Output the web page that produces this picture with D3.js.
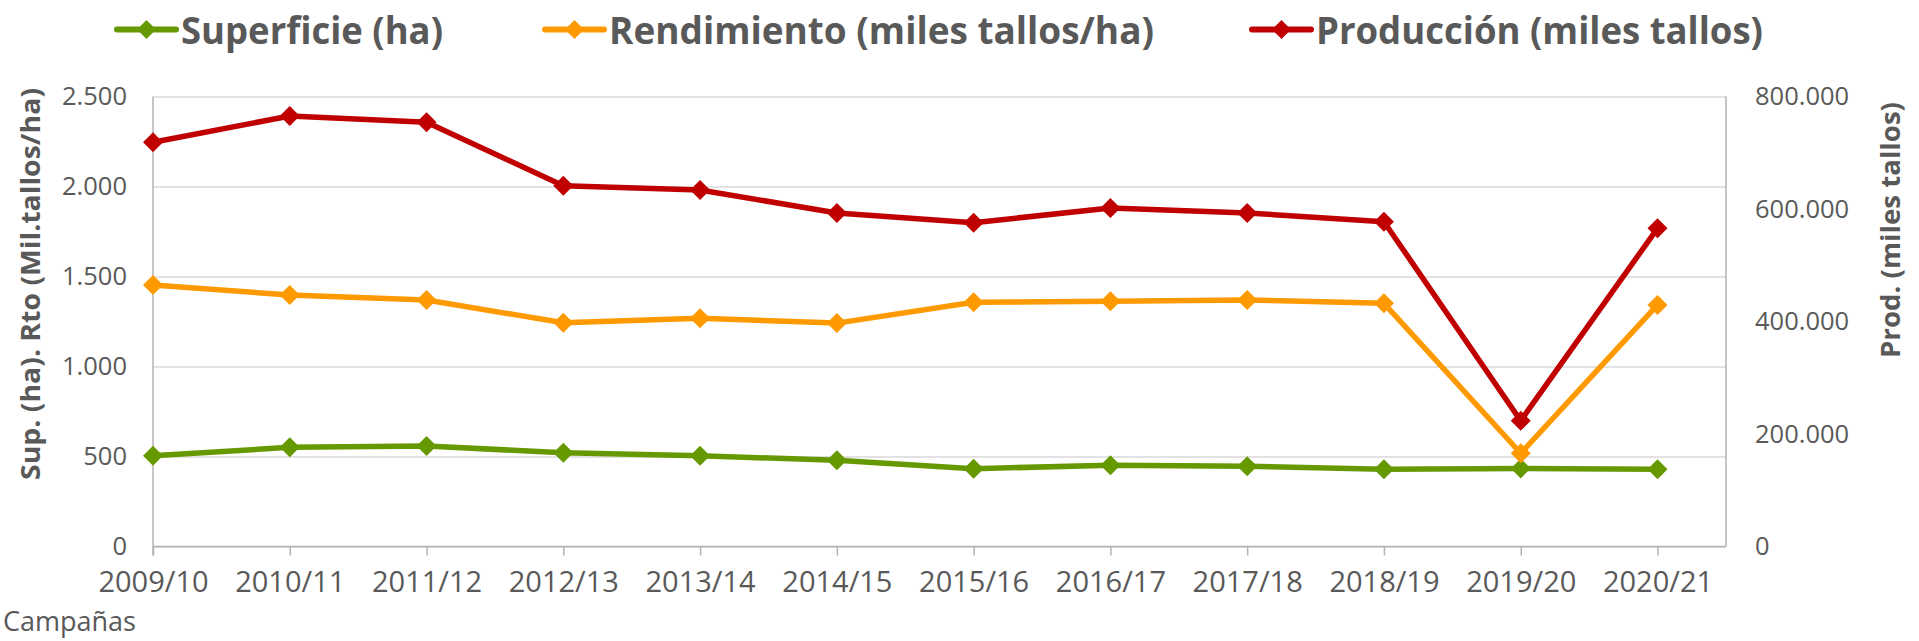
<!DOCTYPE html>
<html>
<head>
<meta charset="utf-8">
<script src="https://cdn.jsdelivr.net/npm/d3@7"></script>
<style>
  html, body { margin: 0; padding: 0; background: #ffffff; }
  svg { display: block; }
</style>
</head>
<body>
<script>
// ---------- data ----------
const categories = ["2009/10","2010/11","2011/12","2012/13","2013/14","2014/15","2015/16","2016/17","2017/18","2018/19","2019/20","2020/21"];
const superficie = [504, 551, 558, 521, 504, 479, 432, 452, 446, 429, 434, 429];
const rendimiento = [1453, 1397, 1369, 1243, 1268, 1241, 1357, 1363, 1370, 1351, 518, 1342];
const produccion = [718600, 765300, 754100, 641400, 633800, 592900, 575700, 601800, 592900, 577400, 223600, 565700];
const leftTicks = [0, 500, 1000, 1500, 2000, 2500];
const rightTicks = [0, 200000, 400000, 600000, 800000];
const seriesNames = ["Superficie (ha)", "Rendimiento (miles tallos/ha)", "Producción (miles tallos)"];
const leftTitle = "Sup. (ha). Rto (Mil.tallos/ha)";
const rightTitle = "Prod. (miles tallos)";
const xTitle = "Campañas";

// ---------- setup ----------
const W = 1919, H = 641;
const plot = { left: 153, right: 1726, top: 96.5, bottom: 546.5 };
const lastPointX = 1657.5;
const textColor = "#595959";
const colors = ["#669900", "#FF9900", "#C00000"];
const fmt = d3.formatLocale({ decimal: ",", thousands: ".", grouping: [3], currency: ["", "€"] }).format(",.0f");

const svg = d3.select("body").append("svg").attr("width", W).attr("height", H);

const x = d3.scalePoint().domain(categories).range([plot.left, lastPointX]);
const yL = d3.scaleLinear().domain([0, 2500]).range([plot.bottom, plot.top]);
const yR = d3.scaleLinear().domain([0, 800000]).range([plot.bottom, plot.top]);

// gridlines
const grid = svg.append("g").attr("transform", `translate(${plot.left},0)`)
  .call(d3.axisLeft(yL).tickValues(leftTicks).tickSize(-(plot.right - plot.left)).tickFormat(""));
grid.select(".domain").remove();
grid.selectAll("line").attr("stroke", "#d9d9d9").attr("stroke-width", 1.5);

// left axis labels
const gL = svg.append("g").attr("transform", `translate(${plot.left},0)`)
  .call(d3.axisLeft(yL).tickValues(leftTicks).tickSize(0).tickPadding(26).tickFormat(fmt));
gL.select(".domain").remove();
gL.selectAll("text").attr("fill", textColor).style("font-family", "'Open Sans'").style("font-size", "25.5px");

// right axis labels
const gR = svg.append("g").attr("transform", `translate(${plot.right},0)`)
  .call(d3.axisRight(yR).tickValues(rightTicks).tickSize(0).tickPadding(29).tickFormat(fmt));
gR.select(".domain").remove();
gR.selectAll("text").attr("fill", textColor).style("font-family", "'Open Sans'").style("font-size", "25.5px");

// bottom axis
const gX = svg.append("g").attr("transform", `translate(0,${plot.bottom})`)
  .call(d3.axisBottom(x).tickSize(9).tickPadding(16));
gX.select(".domain").remove();
gX.selectAll("line").attr("stroke", "#b3b3b3").attr("stroke-width", 1.5);
gX.selectAll("text").attr("fill", textColor).style("font-family", "'Open Sans'").style("font-size", "29px");

// frame lines
const frame = svg.append("g").attr("stroke", "#b3b3b3").attr("stroke-width", 1.5).attr("fill", "none");
frame.append("line").attr("x1", plot.left).attr("x2", plot.left).attr("y1", plot.top).attr("y2", plot.bottom + 9);
frame.append("line").attr("x1", plot.left).attr("x2", plot.right).attr("y1", plot.bottom).attr("y2", plot.bottom);
frame.append("line").attr("x1", plot.right).attr("x2", plot.right).attr("y1", plot.top).attr("y2", plot.bottom);

// series
const series = [
  { values: superficie, y: yL, color: colors[0] },
  { values: rendimiento, y: yL, color: colors[1] },
  { values: produccion, y: yR, color: colors[2] }
];
const diamond = (s) => `M0,${-s}L${s},0L0,${s}L${-s},0Z`;

series.forEach(s => {
  const pts = s.values.map((v, i) => [x(categories[i]), s.y(v)]);
  svg.append("path")
    .attr("d", d3.line()(pts))
    .attr("fill", "none").attr("stroke", s.color).attr("stroke-width", 5.5)
    .attr("stroke-linejoin", "round");
  svg.append("g").selectAll("path").data(pts).join("path")
    .attr("transform", d => `translate(${d[0]},${d[1]})`)
    .attr("d", diamond(10))
    .attr("fill", s.color);
});

// legend
const legendItems = [
  { name: seriesNames[0], color: colors[0], x0: 117, x1: 176, tx: 181, tw: 262 },
  { name: seriesNames[1], color: colors[1], x0: 545, x1: 604, tx: 609, tw: 545 },
  { name: seriesNames[2], color: colors[2], x0: 1252, x1: 1311, tx: 1316, tw: 447 }
];
const lg = svg.append("g");
legendItems.forEach(it => {
  lg.append("line").attr("x1", it.x0).attr("x2", it.x1).attr("y1", 29.5).attr("y2", 29.5)
    .attr("stroke", it.color).attr("stroke-width", 6).attr("stroke-linecap", "round");
  lg.append("path").attr("transform", `translate(${(it.x0 + it.x1) / 2},29.5)`).attr("d", diamond(9.5)).attr("fill", it.color);
  lg.append("text").attr("x", it.tx).attr("y", 43.5).text(it.name)
    .attr("fill", textColor).style("font-family", "'Open Sans'").style("font-weight", "bold").style("font-size", "38px")
    .attr("textLength", it.tw).attr("lengthAdjust", "spacingAndGlyphs");
});

// axis titles
svg.append("text").attr("transform", "translate(40,284) rotate(-90)").attr("text-anchor", "middle")
  .text(leftTitle).attr("fill", textColor).style("font-family", "'Open Sans'").style("font-weight", "bold").style("font-size", "27px")
  .attr("textLength", 392).attr("lengthAdjust", "spacingAndGlyphs");
svg.append("text").attr("transform", "translate(1900,230) rotate(-90)").attr("text-anchor", "middle")
  .text(rightTitle).attr("fill", textColor).style("font-family", "'Open Sans'").style("font-weight", "bold").style("font-size", "27px")
  .attr("textLength", 256).attr("lengthAdjust", "spacingAndGlyphs");
svg.append("text").attr("x", 3).attr("y", 631).text(xTitle)
  .attr("fill", textColor).style("font-family", "'Open Sans'").style("font-size", "27px");
</script>
</body>
</html>
